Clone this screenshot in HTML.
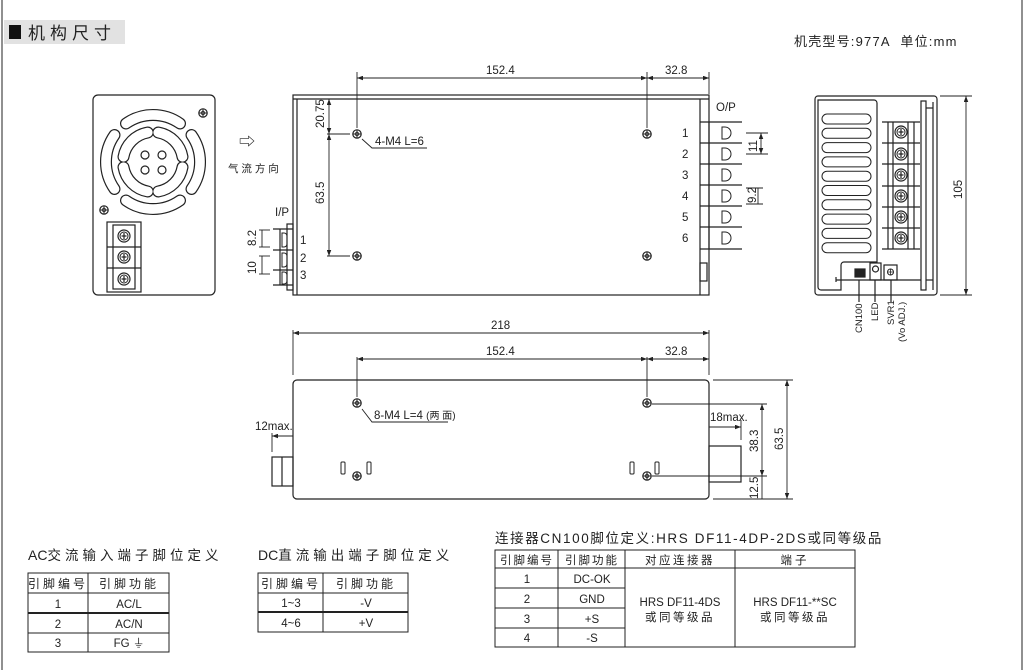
<!DOCTYPE html>
<html><head><meta charset="utf-8"><style>
html,body{margin:0;padding:0;background:#fff}
svg{display:block}
text{font-family:"Liberation Sans","Noto Sans CJK SC",sans-serif;fill:#222}
</style></head><body>
<svg width="1024" height="670" viewBox="0 0 1024 670" xmlns="http://www.w3.org/2000/svg">
<defs>
<marker id="a" viewBox="0 0 8 6" refX="8" refY="3" markerWidth="7" markerHeight="5" orient="auto-start-reverse"><path d="M0 0L8 3L0 6z" fill="#222"/></marker>
<g id="scr"><circle r="4.2" fill="#fff" stroke="#222" stroke-width="1.2"/><path d="M-4 0H4M0-4V4" stroke="#222" stroke-width="1"/><circle r="1.8" fill="none" stroke="#222" stroke-width="0.8"/></g>
<g id="tscr"><circle r="6" fill="#fff" stroke="#222" stroke-width="1.2"/><circle r="4" fill="none" stroke="#222" stroke-width="1"/><path d="M-2.5 0H2.5M0-3V3" stroke="#222" stroke-width="1.2"/></g>
</defs>
<g stroke="#222" fill="none" stroke-width="1">
<line x1="2" y1="0" x2="2" y2="670"/><line x1="1022" y1="0" x2="1022" y2="670"/>
</g>
<rect x="4" y="20" width="121" height="24" fill="#e2e2e2"/>
<rect x="9" y="25" width="12" height="14" fill="#111"/>
<text x="28" y="39" font-size="17" letter-spacing="5" fill="#333">机构尺寸</text>
<text x="794" y="46" font-size="13" letter-spacing="1.2" fill="#333">机壳型号:977A&#160;&#160;单位:mm</text>

<!-- front view -->
<g stroke="#222" fill="none" stroke-width="1.2">
<rect x="93" y="95" width="122" height="200" rx="5"/>
<g stroke-width="12" stroke-linecap="round">
<path d="M126 123.5A47 47 0 0 1 180 123.5M180 200.5A47 47 0 0 1 126 200.5M114.5 189A47 47 0 0 1 114.5 135M191.5 135A47 47 0 0 1 191.5 189M123.5 156.8A30 30 0 0 1 147.8 132.5M158.2 132.5A30 30 0 0 1 182.5 156.8M182.5 167.2A30 30 0 0 1 158.2 191.5M147.8 191.5A30 30 0 0 1 123.5 167.2"/>
</g>
<g stroke-width="9.6" stroke-linecap="round" stroke="#fff">
<path d="M126 123.5A47 47 0 0 1 180 123.5M180 200.5A47 47 0 0 1 126 200.5M114.5 189A47 47 0 0 1 114.5 135M191.5 135A47 47 0 0 1 191.5 189M123.5 156.8A30 30 0 0 1 147.8 132.5M158.2 132.5A30 30 0 0 1 182.5 156.8M182.5 167.2A30 30 0 0 1 158.2 191.5M147.8 191.5A30 30 0 0 1 123.5 167.2"/>
</g>
<circle cx="145" cy="155" r="4"/><circle cx="162" cy="155" r="4"/><circle cx="145" cy="170" r="4"/><circle cx="162" cy="170" r="4"/>
<rect x="107" y="222" width="34" height="70"/>
<rect x="113" y="225" width="22" height="64"/>
<line x1="107" y1="247" x2="141" y2="247"/><line x1="107" y1="268" x2="141" y2="268"/>
</g>
<use href="#scr" x="203" y="113"/><use href="#scr" x="104" y="210"/>
<use href="#tscr" x="124" y="236"/><use href="#tscr" x="124" y="257"/><use href="#tscr" x="124" y="279"/>
<text x="239" y="147" font-size="16">⇨</text>
<text x="228" y="172" font-size="10.5">气 流 方 向</text>

<!-- top view -->
<g stroke="#222" fill="none" stroke-width="1.2">
<rect x="293" y="95" width="416" height="200"/>
<line x1="293" y1="99" x2="709" y2="99"/>
<line x1="297" y1="99" x2="297" y2="295"/>
<line x1="700" y1="99" x2="700" y2="295"/>
<g stroke-width="1.2">
<line x1="700" y1="122" x2="742" y2="122"/><line x1="700" y1="143" x2="742" y2="143"/><line x1="700" y1="164" x2="742" y2="164"/><line x1="700" y1="185" x2="742" y2="185"/><line x1="700" y1="206" x2="742" y2="206"/><line x1="700" y1="227" x2="742" y2="227"/><line x1="700" y1="249" x2="742" y2="249"/>
<line x1="709" y1="122" x2="709" y2="249"/>
<path d="M722 127h3a4 4 0 0 1 0 12h-3zM722 148h3a4 4 0 0 1 0 12h-3zM722 169h3a4 4 0 0 1 0 12h-3zM722 190h3a4 4 0 0 1 0 12h-3zM722 211h3a4 4 0 0 1 0 12h-3zM722 232h3a4 4 0 0 1 0 12h-3z" stroke-width="1"/>
<rect x="700" y="263" width="7" height="18"/>
</g>
<line x1="273" y1="229" x2="293" y2="229"/><line x1="273" y1="250" x2="293" y2="250"/><line x1="273" y1="270" x2="293" y2="270"/><line x1="273" y1="285" x2="293" y2="285"/>
<line x1="280" y1="229" x2="280" y2="285"/>
<rect x="287" y="224" width="6" height="66"/>
<path d="M282 233h2a3 3 0 0 1 3 3v8a3 3 0 0 1-3 3h-2zM282 253h2a3 3 0 0 1 3 3v8a3 3 0 0 1-3 3h-2zM282 272h2a3 3 0 0 1 3 3v6a3 3 0 0 1-3 3h-2z" stroke-width="1"/>
</g>
<g stroke="#222" stroke-width="0.9" fill="none">
<line x1="357" y1="72" x2="357" y2="128"/><line x1="647" y1="72" x2="647" y2="128"/><line x1="709" y1="72" x2="709" y2="94"/>
<line x1="357" y1="78" x2="647" y2="78" marker-start="url(#a)" marker-end="url(#a)"/>
<line x1="647" y1="78" x2="709" y2="78" marker-start="url(#a)" marker-end="url(#a)"/>
<line x1="329" y1="99" x2="329" y2="134" marker-start="url(#a)" marker-end="url(#a)"/>
<line x1="329" y1="134" x2="329" y2="256" marker-start="url(#a)" marker-end="url(#a)"/>
<line x1="327" y1="134" x2="350" y2="134"/><line x1="327" y1="256" x2="350" y2="256"/>
<path d="M362 139L372 148H427"/>
<line x1="746" y1="133" x2="768" y2="133"/><line x1="746" y1="154" x2="768" y2="154"/>
<line x1="761" y1="133" x2="761" y2="154" marker-start="url(#a)" marker-end="url(#a)"/>
<line x1="746" y1="188" x2="763" y2="188"/><line x1="746" y1="204" x2="763" y2="204"/>
<line x1="758" y1="188" x2="758" y2="204"/>
<line x1="259" y1="230" x2="270" y2="230"/><line x1="259" y1="247" x2="270" y2="247"/>
<line x1="262" y1="230" x2="262" y2="247"/>
<line x1="259" y1="256" x2="270" y2="256"/><line x1="259" y1="274" x2="270" y2="274"/>
<line x1="262" y1="256" x2="262" y2="274"/>
</g>
<use href="#scr" x="357" y="134"/><use href="#scr" x="647" y="134"/><use href="#scr" x="357" y="256"/><use href="#scr" x="647" y="256"/>
<text x="486" y="74" font-size="11.5">152.4</text><text x="665" y="74" font-size="11.5">32.8</text>
<text x="375" y="145" font-size="11.5">4-M4 L=6</text>
<text font-size="11.5" transform="translate(324 128) rotate(-90)">20.75</text>
<text font-size="11.5" transform="translate(324 204) rotate(-90)">63.5</text>
<text font-size="11.5" transform="translate(757 152) rotate(-90)">11</text>
<text font-size="11.5" transform="translate(756 203) rotate(-90)">9.2</text>
<text font-size="11.5" transform="translate(256 246) rotate(-90)">8.2</text>
<text font-size="11.5" transform="translate(256 274) rotate(-90)">10</text>
<text x="716" y="111" font-size="11.5">O/P</text>
<text x="275" y="216" font-size="11.5">I/P</text>
<g font-size="11.5"><text x="682" y="137">1</text><text x="682" y="158">2</text><text x="682" y="179">3</text><text x="682" y="200">4</text><text x="682" y="221">5</text><text x="682" y="242">6</text>
<text x="300" y="244">1</text><text x="300" y="262">2</text><text x="300" y="279">3</text></g>

<!-- side view -->
<g stroke="#222" fill="none" stroke-width="1.2">
<rect x="815" y="96" width="122" height="199" rx="3"/>
<path d="M818 100H874a3 3 0 0 1 3 3V262H844a3 3 0 0 0-3 3V290H821a3 3 0 0 1-3-3z"/>
<g stroke-width="1">
<rect x="822" y="114" width="49" height="10" rx="5"/><rect x="822" y="128.3" width="49" height="10" rx="5"/><rect x="822" y="142.6" width="49" height="10" rx="5"/><rect x="822" y="156.9" width="49" height="10" rx="5"/><rect x="822" y="171.2" width="49" height="10" rx="5"/><rect x="822" y="185.5" width="49" height="10" rx="5"/><rect x="822" y="199.8" width="49" height="10" rx="5"/><rect x="822" y="214.1" width="49" height="10" rx="5"/><rect x="822" y="228.4" width="49" height="10" rx="5"/><rect x="822" y="242.7" width="49" height="10" rx="5"/>
</g>
<line x1="882" y1="122" x2="920" y2="122"/><line x1="882" y1="143" x2="920" y2="143"/><line x1="882" y1="164" x2="920" y2="164"/><line x1="882" y1="186" x2="920" y2="186"/><line x1="882" y1="207" x2="920" y2="207"/><line x1="882" y1="228" x2="920" y2="228"/><line x1="882" y1="249" x2="920" y2="249"/>
<line x1="888" y1="122" x2="888" y2="249"/><line x1="893" y1="122" x2="893" y2="249"/><line x1="908" y1="122" x2="908" y2="249"/><line x1="914" y1="122" x2="914" y2="249"/>
<rect x="921" y="101" width="5" height="189"/>
<line x1="926" y1="108" x2="933" y2="108"/><line x1="926" y1="280" x2="933" y2="280"/><line x1="933" y1="102" x2="933" y2="290"/>
<line x1="836" y1="280" x2="921" y2="280"/><line x1="836" y1="277" x2="836" y2="282"/>
<rect x="855" y="269" width="10" height="8" fill="#222"/>
<rect x="870" y="263" width="11" height="17"/><circle cx="875.5" cy="269" r="3"/>
<rect x="884" y="265" width="13" height="15"/>
<line x1="859" y1="280" x2="859" y2="302"/><line x1="875" y1="280" x2="875" y2="302"/><line x1="891" y1="280" x2="891" y2="302"/>
</g>
<use href="#tscr" x="901" y="132"/><use href="#tscr" x="901" y="154"/><use href="#tscr" x="901" y="175"/><use href="#tscr" x="901" y="196"/><use href="#tscr" x="901" y="217"/><use href="#tscr" x="901" y="238"/>
<circle cx="890.5" cy="272" r="3" fill="none" stroke="#222"/><path d="M887.5 272h6M890.5 269v6" stroke="#222" stroke-width="0.8"/>
<g font-size="9.5"><text transform="translate(862 333) rotate(-90)">CN100</text><text transform="translate(878 321) rotate(-90)">LED</text><text transform="translate(894 325) rotate(-90)">SVR1</text><text transform="translate(905 342) rotate(-90)">(Vo ADJ.)</text></g>
<g stroke="#222" stroke-width="0.9" fill="none">
<line x1="940" y1="96" x2="972" y2="96"/><line x1="940" y1="295" x2="972" y2="295"/>
<line x1="966" y1="96" x2="966" y2="295" marker-start="url(#a)" marker-end="url(#a)"/>
</g>
<text font-size="11.5" transform="translate(962 199) rotate(-90)">105</text>

<!-- bottom view -->
<g stroke="#222" fill="none" stroke-width="1.2">
<rect x="293" y="380" width="416" height="119" rx="4"/>
<rect x="272" y="457" width="21" height="29"/><line x1="282" y1="457" x2="282" y2="486"/>
<rect x="709" y="446" width="32" height="36"/>
<g stroke-width="1">
<rect x="341" y="462" width="4" height="12" rx="1"/><rect x="367" y="462" width="4" height="12" rx="1"/>
<rect x="630" y="462" width="4" height="12" rx="1"/><rect x="655" y="462" width="4" height="12" rx="1"/>
</g>
</g>
<use href="#scr" x="357" y="403"/><use href="#scr" x="647" y="403"/><use href="#scr" x="357" y="476"/><use href="#scr" x="647" y="476"/>
<g stroke="#222" stroke-width="0.9" fill="none">
<line x1="293" y1="330" x2="293" y2="375"/><line x1="709" y1="330" x2="709" y2="375"/>
<line x1="357" y1="357" x2="357" y2="397"/><line x1="647" y1="357" x2="647" y2="397"/>
<line x1="293" y1="333" x2="709" y2="333" marker-start="url(#a)" marker-end="url(#a)"/>
<line x1="357" y1="359" x2="647" y2="359" marker-start="url(#a)" marker-end="url(#a)"/>
<line x1="647" y1="359" x2="709" y2="359" marker-start="url(#a)" marker-end="url(#a)"/>
<path d="M362 409L372 422H448"/>
<line x1="652" y1="404" x2="767" y2="404"/><line x1="652" y1="476" x2="767" y2="476"/>
<line x1="713" y1="380" x2="793" y2="380"/><line x1="713" y1="499" x2="793" y2="499"/>
<line x1="762" y1="404" x2="762" y2="476" marker-start="url(#a)" marker-end="url(#a)"/>
<line x1="762" y1="476" x2="762" y2="499"/>
<line x1="787" y1="380" x2="787" y2="499" marker-start="url(#a)" marker-end="url(#a)"/>
<line x1="709" y1="427" x2="741" y2="427" marker-end="url(#a)"/><line x1="741" y1="420" x2="741" y2="440"/>
<line x1="272" y1="436" x2="293" y2="436" marker-start="url(#a)"/><line x1="272" y1="433" x2="272" y2="452"/>
</g>
<text x="491" y="329" font-size="11.5">218</text>
<text x="486" y="355" font-size="11.5">152.4</text><text x="665" y="355" font-size="11.5">32.8</text>
<text x="374" y="419" font-size="11.5">8-M4 L=4 <tspan font-size="10">(两 面)</tspan></text>
<text x="255" y="430" font-size="11.5">12max.</text>
<text x="710" y="421" font-size="11.5">18max.</text>
<text font-size="11.5" transform="translate(758 452) rotate(-90)">38.3</text>
<text font-size="11.5" transform="translate(758 499) rotate(-90)">12.5</text>
<text font-size="11.5" transform="translate(783 450) rotate(-90)">63.5</text>

<!-- tables -->
<text x="28" y="560" font-size="14">AC<tspan font-size="13.5" letter-spacing="4">交流输入端子脚位定义</tspan></text>
<text x="258" y="560" font-size="14">DC<tspan font-size="13.5" letter-spacing="4">直流输出端子脚位定义</tspan></text>
<text x="495" y="543" font-size="13.5" letter-spacing="1.6">连接器CN100脚位定义:HRS DF11-4DP-2DS或同等级品</text>
<g stroke="#222" fill="none" stroke-width="1">
<rect x="28" y="573" width="141" height="79"/><line x1="88" y1="573" x2="88" y2="652"/>
<line x1="28" y1="593" x2="169" y2="593"/><line x1="28" y1="613" x2="169" y2="613" stroke-width="2"/><line x1="28" y1="633" x2="169" y2="633"/>
<rect x="258" y="573" width="150" height="59"/><line x1="323" y1="573" x2="323" y2="632"/>
<line x1="258" y1="593" x2="408" y2="593"/><line x1="258" y1="612" x2="408" y2="612" stroke-width="2"/>
<rect x="495" y="550" width="360" height="97"/>
<line x1="558" y1="550" x2="558" y2="647"/><line x1="625" y1="550" x2="625" y2="647"/><line x1="735" y1="550" x2="735" y2="647"/>
<line x1="495" y1="568" x2="855" y2="568"/><line x1="495" y1="588" x2="625" y2="588"/><line x1="495" y1="608" x2="625" y2="608"/><line x1="495" y1="628" x2="625" y2="628"/>
</g>
<g font-size="11.5" text-anchor="middle">
<text x="58" y="588" font-size="12" letter-spacing="3" fill="#444">引脚编号</text><text x="129" y="588" font-size="12" letter-spacing="3" fill="#444">引脚功能</text>
<text x="58" y="608">1</text><text x="129" y="608">AC/L</text>
<text x="58" y="628">2</text><text x="129" y="628">AC/N</text>
<text x="58" y="647">3</text><text x="129" y="647">FG ⏚</text>
<text x="291" y="588" font-size="12" letter-spacing="3" fill="#444">引脚编号</text><text x="366" y="588" font-size="12" letter-spacing="3" fill="#444">引脚功能</text>
<text x="291" y="607">1~3</text><text x="366" y="607">-V</text>
<text x="291" y="627">4~6</text><text x="366" y="627">+V</text>
<text x="527" y="564" font-size="11.5" letter-spacing="2" fill="#444">引脚编号</text><text x="592" y="564" font-size="11.5" letter-spacing="2" fill="#444">引脚功能</text>
<text x="680" y="564" font-size="11.5" letter-spacing="2.5" fill="#444">对应连接器</text><text x="795" y="564" font-size="11.5" letter-spacing="3" fill="#444">端子</text>
<text x="527" y="583">1</text><text x="592" y="583">DC-OK</text>
<text x="527" y="603">2</text><text x="592" y="603">GND</text>
<text x="527" y="623">3</text><text x="592" y="623">+S</text>
<text x="527" y="642">4</text><text x="592" y="642">-S</text>
<text x="680" y="606" font-size="11.5">HRS DF11-4DS</text><text x="680" y="621" font-size="11.5" letter-spacing="2.5" fill="#444">或同等级品</text>
<text x="795" y="606" font-size="11.5">HRS DF11-**SC</text><text x="795" y="621" font-size="11.5" letter-spacing="2.5" fill="#444">或同等级品</text>
</g>
</svg>
</body></html>
